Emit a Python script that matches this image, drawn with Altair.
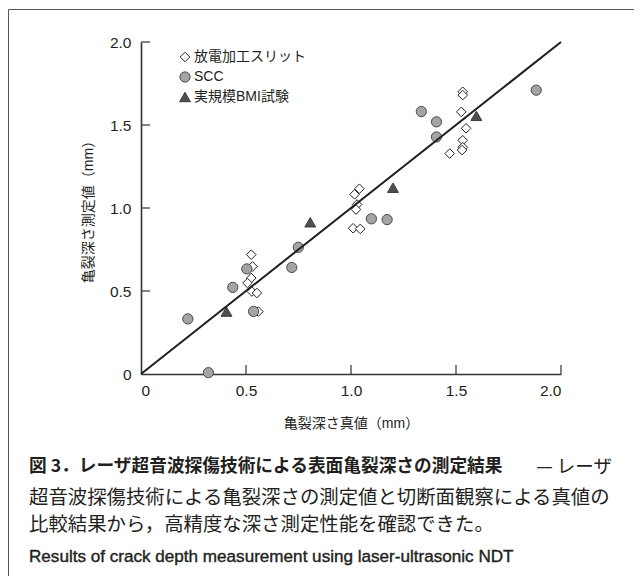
import altair as alt
import pandas as pd

# ---- data ----
series_names = ["放電加工スリット", "SCC", "実規模BMI試験"]

slit_x = [0.525, 0.531, 0.525, 0.507, 0.528, 0.552, 0.559, 1.040, 1.017, 1.029, 1.024, 1.010, 1.044,
          1.532, 1.532, 1.525, 1.548, 1.532, 1.532, 1.529, 1.470]
slit_y = [0.719, 0.648, 0.578, 0.548, 0.497, 0.488, 0.376, 1.116, 1.082, 1.021, 0.991, 0.878, 0.874,
          1.700, 1.680, 1.579, 1.480, 1.408, 1.366, 1.349, 1.328]

scc_x = [0.223, 0.321, 0.437, 0.504, 0.536, 0.718, 0.749, 1.097, 1.172, 1.335, 1.407, 1.407, 1.882]
scc_y = [0.332, 0.008, 0.522, 0.633, 0.377, 0.642, 0.763, 0.935, 0.930, 1.581, 1.519, 1.428, 1.710]

bmi_x = [0.407, 0.806, 1.200, 1.597]
bmi_y = [0.376, 0.914, 1.122, 1.555]

line_x = [0.0, 2.0]
line_y = [0.0, 2.0]

tick_values = [0.5, 1.0, 1.5, 2.0]
axis_values = [0.0, 0.5, 1.0, 1.5, 2.0]

x_title = "亀裂深さ真値（mm）"
y_title = "亀裂深さ測定値（mm）"

caption_bold = "図 3．レーザ超音波探傷技術による表面亀裂深さの測定結果"
caption_tail = "— レーザ"
caption_lines = [
    "超音波探傷技術による亀裂深さの測定値と切断面観察による真値の",
    "比較結果から，高精度な深さ測定性能を確認できた。",
]
caption_en = "Results of crack depth measurement using laser-ultrasonic NDT"

# ---- tables ----
rows = []
for xs, ys, name in [(slit_x, slit_y, series_names[0]),
                     (scc_x, scc_y, series_names[1]),
                     (bmi_x, bmi_y, series_names[2])]:
    for a, b in zip(xs, ys):
        rows.append({"x": a, "y": b, "type": name})
pts = pd.DataFrame(rows)
line_df = pd.DataFrame({"x": line_x, "y": line_y})
ticks_df = pd.DataFrame({"v": tick_values})
one = pd.DataFrame({"a": [0]})

W, H = 420, 332
LAT = "Liberation Sans, Noto Sans CJK JP"
JP = "Noto Sans CJK JP"
INK = "#231f20"

xs = alt.Scale(domain=[0, 2], nice=False, zero=False)
ys = alt.Scale(domain=[0, 2], nice=False, zero=False)
lab = "datum.value == 0 ? '0' : format(datum.value, '.1f')"

x_axis = alt.Axis(values=axis_values, labelExpr=lab, ticks=False, tickSize=0, grid=False,
                  domainColor="#333", domainWidth=1.6, labelFont="Liberation Sans",
                  labelFontSize=15.5, labelColor=INK, labelPadding=9, title=x_title,
                  titleFont=LAT, titleFontSize=14, titleFontWeight="normal", titleColor=INK,
                  titlePadding=18)
y_axis = alt.Axis(values=axis_values, labelExpr=lab, ticks=False, tickSize=0, grid=False,
                  domainColor="#333", domainWidth=1.6, labelFont="Liberation Sans",
                  labelFontSize=15.5, labelColor=INK, labelPadding=10, title=y_title,
                  titleFont=LAT, titleFontSize=14, titleFontWeight="normal", titleColor=INK,
                  titlePadding=14)

legend = alt.Legend(orient="none", legendX=37, legendY=8, title=None, labelFont=LAT,
                    labelFontSize=14, labelColor=INK, rowPadding=5, padding=0,
                    symbolStrokeWidth=1, labelOffset=2)

points = alt.Chart(pts).mark_point(filled=True, strokeWidth=1, opacity=1).encode(
    x=alt.X("x:Q", scale=xs, axis=x_axis),
    y=alt.Y("y:Q", scale=ys, axis=y_axis),
    shape=alt.Shape("type:N", scale=alt.Scale(domain=series_names,
                    range=["diamond", "circle", "triangle-up"]), legend=legend),
    fill=alt.Fill("type:N", scale=alt.Scale(domain=series_names,
                  range=["#ffffff", "#a4a4a4", "#4f4f4f"]), legend=legend),
    stroke=alt.Stroke("type:N", scale=alt.Scale(domain=series_names,
                      range=["#222222", "#4a4a4a", "#3a3a3a"]), legend=legend),
    size=alt.Size("type:N", scale=alt.Scale(domain=series_names, range=[92, 118, 165]),
                  legend=legend),
)

diag = alt.Chart(line_df).mark_line(color="#1e1e1e", strokeWidth=2).encode(
    x=alt.X("x:Q", scale=xs), y=alt.Y("y:Q", scale=ys))

xticks = alt.Chart(ticks_df).mark_rule(color="#333", strokeWidth=1.2).encode(
    x=alt.X("v:Q", scale=xs), y=alt.value(H), y2=alt.value(H - 9))
yticks = alt.Chart(ticks_df).mark_rule(color="#333", strokeWidth=1.2).encode(
    y=alt.Y("v:Q", scale=ys), x=alt.value(0), x2=alt.value(9))

frame_top = alt.Chart(one).mark_rule(color="#555", strokeWidth=1).encode(
    x=alt.value(-132.5), x2=alt.value(W + 100), y=alt.value(-32.5))
frame_left = alt.Chart(one).mark_rule(color="#555", strokeWidth=1).encode(
    x=alt.value(-132.5), y=alt.value(-32.5), y2=alt.value(H + 300))

cap1 = alt.Chart(one).mark_text(text=caption_bold, font=JP, fontSize=17.7, fontWeight="bold",
                                align="left", baseline="middle", color=INK).encode(
    x=alt.value(-112), y=alt.value(425))
cap1b = alt.Chart(one).mark_text(text=caption_tail, font=JP, fontSize=18.5, align="right",
                                 baseline="middle", color=INK).encode(
    x=alt.value(471), y=alt.value(425))
cap2 = alt.Chart(one).mark_text(text=caption_lines[0], font=JP, fontSize=19.4, align="left",
                                baseline="middle", color=INK).encode(
    x=alt.value(-112), y=alt.value(456))
cap3 = alt.Chart(one).mark_text(text=caption_lines[1], font=JP, fontSize=19.4, align="left",
                                baseline="middle", color=INK).encode(
    x=alt.value(-112), y=alt.value(482.5))
cap4 = alt.Chart(one).mark_text(text=caption_en, font="Liberation Sans", fontSize=17.1,
                                align="left", baseline="middle", color=INK,
                                stroke=INK, strokeWidth=0.4).encode(
    x=alt.value(-112), y=alt.value(515))

chart = alt.layer(points, diag, xticks, yticks, frame_top, frame_left,
                  cap1, cap1b, cap2, cap3, cap4).properties(
    width=W, height=H,
    autosize=alt.AutoSizeParams(type="none"),
    padding={"left": 133, "top": 34, "right": 73, "bottom": 202},
    background="white",
).configure_view(stroke=None)

chart.save("out.html", embed_options={"renderer": "svg", "actions": False})
